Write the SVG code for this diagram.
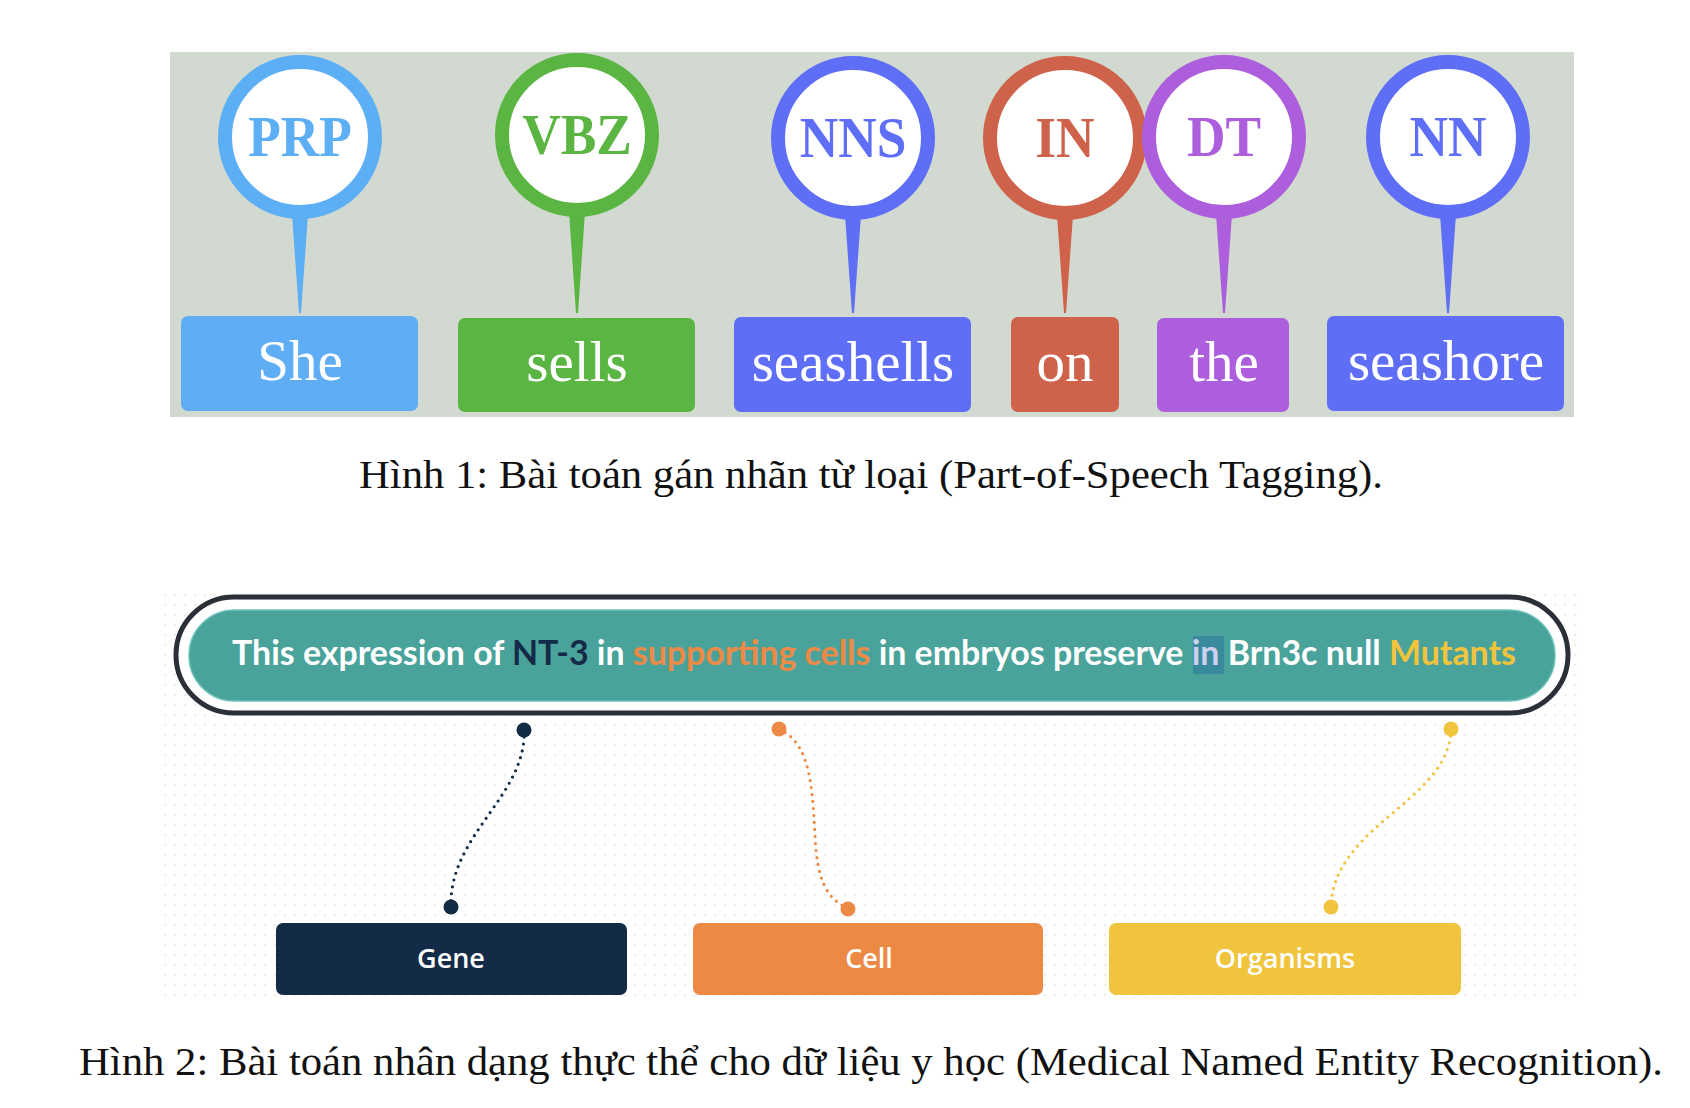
<svg xmlns="http://www.w3.org/2000/svg" width="1690" height="1108" viewBox="0 0 1690 1108">
<defs>
<style>
.tag{font-family:"Liberation Serif","Times New Roman",serif;font-weight:bold;font-size:58px;text-anchor:middle}
.word{font-family:"Liberation Serif","Times New Roman",serif;font-size:57px;fill:#ffffff;text-anchor:middle}
.ring{fill:#ffffff;stroke-width:14}
.cap{font-family:"Liberation Serif","Times New Roman",serif;font-size:40px;fill:#111111}
.ent{font-family:"Open Sans","Noto Sans",sans-serif;font-size:27px;font-weight:600;fill:#ffffff;text-anchor:middle}
.conn{fill:none;stroke-width:3.2;stroke-linecap:round;stroke-dasharray:0 7}
</style>
<pattern id="dots" width="10" height="10" patternUnits="userSpaceOnUse">
<circle cx="5" cy="5" r="1.3" fill="#eeeeee"/>
</pattern>
</defs>
<rect width="1690" height="1108" fill="#ffffff"/>

<g id="figure1">
<rect id="panel1" x="170" y="52" width="1404" height="365" fill="#d1d9d0"/>

<g id="pin-she">
<path d="M292,214 L308,214 L301,313 L299,313 Z" fill="#5caef5"/>
<circle class="ring" cx="300" cy="137" r="75" stroke="#5caef5"/>
<text class="tag" fill="#5caef5" transform="translate(300,156) scale(0.92,1)">PRP</text>
<rect x="181" y="316" width="237" height="95" rx="7" fill="#5eadf5"/>
<text class="word" x="300" y="380">She</text>
</g>

<g id="pin-sells">
<path d="M569,212 L585,212 L578,313 L576,313 Z" fill="#5bb543"/>
<circle class="ring" cx="577" cy="135" r="75" stroke="#5bb543"/>
<text class="tag" fill="#5bb543" transform="translate(577,154) scale(0.92,1)">VBZ</text>
<rect x="458" y="318" width="237" height="94" rx="7" fill="#5bb543"/>
<text class="word" x="577" y="381">sells</text>
</g>

<g id="pin-seashells">
<path d="M845,215 L861,215 L854,313 L852,313 Z" fill="#5e6ef6"/>
<circle class="ring" cx="853" cy="138" r="75" stroke="#5e6ef6"/>
<text class="tag" fill="#5e6ef6" transform="translate(853,157) scale(0.92,1)">NNS</text>
<rect x="734" y="317" width="237" height="95" rx="7" fill="#5e6ef6"/>
<text class="word" x="853" y="381">seashells</text>
</g>

<g id="pin-on">
<path d="M1057,215 L1073,215 L1066,313 L1064,313 Z" fill="#cf624a"/>
<circle class="ring" cx="1065" cy="138" r="75" stroke="#cf624a"/>
<text class="tag" fill="#cf624a" transform="translate(1065,157) scale(0.92,1)">IN</text>
<rect x="1011" y="317" width="108" height="95" rx="7" fill="#cf624a"/>
<text class="word" x="1065" y="381">on</text>
</g>

<g id="pin-the">
<path d="M1216,214 L1232,214 L1225,313 L1223,313 Z" fill="#ad5edc"/>
<circle class="ring" cx="1224" cy="137" r="75" stroke="#ad5edc"/>
<text class="tag" fill="#ad5edc" transform="translate(1224,156) scale(0.92,1)">DT</text>
<rect x="1157" y="318" width="132" height="94" rx="7" fill="#ad5edc"/>
<text class="word" x="1224" y="381">the</text>
</g>

<g id="pin-seashore">
<path d="M1440,214 L1456,214 L1449,313 L1447,313 Z" fill="#5e6ef6"/>
<circle class="ring" cx="1448" cy="137" r="75" stroke="#5e6ef6"/>
<text class="tag" fill="#5e6ef6" transform="translate(1448,156) scale(0.92,1)">NN</text>
<rect x="1327" y="316" width="237" height="95" rx="7" fill="#5e6ef6"/>
<text class="word" x="1446" y="380">seashore</text>
</g>

<text id="caption1" class="cap" x="359" y="488" textLength="1024" lengthAdjust="spacingAndGlyphs">Hình 1: Bài toán gán nhãn từ loại (Part-of-Speech Tagging).</text>
</g>

<g id="figure2">
<rect id="panel2" x="164" y="588" width="1419" height="415" fill="url(#dots)"/>

<g id="sentence">
<rect x="176" y="597" width="1392" height="116" rx="58" fill="#ffffff" stroke="#2b2f38" stroke-width="5"/>
<rect x="189" y="610" width="1366" height="91" rx="45.5" fill="#4aa39b" stroke="#6dc2ba" stroke-width="1.5"/>
<rect x="1193" y="636" width="31" height="38" fill="#3a8a9e"/>
<text x="232" y="665" textLength="1284" lengthAdjust="spacingAndGlyphs" font-family="Lato,'Open Sans',sans-serif" font-weight="bold" font-size="34" fill="#ffffff">This expression of <tspan fill="#142b47">NT-3</tspan> in <tspan fill="#ee8a45">supporting cells</tspan> in embryos preserve <tspan fill="#cdd0ee">in</tspan> Brn3c null <tspan fill="#f2c43c">Mutants</tspan></text>
</g>

<g id="connectors">
<path class="conn" stroke="#132b47" d="M524,730 C527,795 449,835 451,906"/>
<path class="conn" stroke="#ec8a45" d="M779,729 C815,745 812,800 816,850 C820,890 832,900 848,909"/>
<path class="conn" stroke="#f0c43c" d="M1451,729 C1450,800 1334,825 1331,906"/>
<circle cx="524" cy="730" r="7.5" fill="#132b47"/>
<circle cx="451" cy="907" r="7.5" fill="#132b47"/>
<circle cx="779" cy="729" r="7.5" fill="#ec8a45"/>
<circle cx="848" cy="909" r="7.5" fill="#ec8a45"/>
<circle cx="1451" cy="729" r="7.5" fill="#f0c43c"/>
<circle cx="1331" cy="907" r="7.5" fill="#f0c43c"/>
</g>

<g id="ent-gene">
<rect x="276" y="923" width="351" height="72" rx="7" fill="#132b47"/>
<text class="ent" x="451" y="968">Gene</text>
</g>
<g id="ent-cell">
<rect x="693" y="923" width="350" height="72" rx="7" fill="#ec8a45"/>
<text class="ent" x="869" y="968">Cell</text>
</g>
<g id="ent-organisms">
<rect x="1109" y="923" width="352" height="72" rx="7" fill="#f0c43c"/>
<text class="ent" x="1285" y="968">Organisms</text>
</g>

<text id="caption2" class="cap" x="79" y="1075" textLength="1584" lengthAdjust="spacingAndGlyphs">Hình 2: Bài toán nhân dạng thực thể cho dữ liệu y học (Medical Named Entity Recognition).</text>
</g>
</svg>
